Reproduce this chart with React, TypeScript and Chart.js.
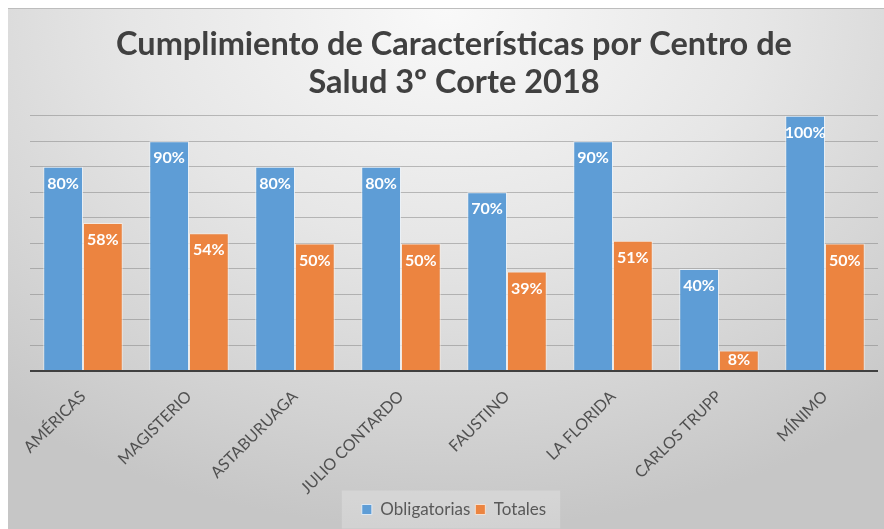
import React, { useEffect, useRef } from "react";
import { Chart, registerables } from "chart.js";

Chart.register(...registerables);

const categories = ["AMÉRICAS", "MAGISTERIO", "ASTABURUAGA", "JULIO CONTARDO", "FAUSTINO", "LA FLORIDA", "CARLOS TRUPP", "MÍNIMO"];
const obligatorias = [80, 90, 80, 80, 70, 90, 40, 100];
const totales = [58, 54, 50, 50, 39, 51, 8, 50];
const titleLines = ["Cumplimiento de Características por Centro de", "Salud 3º Corte 2018"];
const seriesNames = ["Obligatorias", "Totales"];

const FONT = "Lato, 'Open Sans', sans-serif";

const dataLabelPlugin = {
  id: "dataLabels",
  afterDatasetsDraw(chart: any) {
    const ctx = chart.ctx;
    ctx.save();
    ctx.font = `bold 16px ${FONT}`;
    ctx.fillStyle = "#ffffff";
    ctx.textAlign = "center";
    ctx.textBaseline = "middle";
    chart.data.datasets.forEach((ds: any, di: number) => {
      const meta = chart.getDatasetMeta(di);
      meta.data.forEach((bar: any, i: number) => {
        const v = ds.data[i];
        const h = bar.base - bar.y;
        const off = Math.min(17, h / 2);
        ctx.fillText(v + "%", bar.x, bar.y + off);
      });
    });
    ctx.restore();
  },
};

const legendBgPlugin = {
  id: "legendBg",
  beforeDraw(chart: any) {
    const lg = chart.legend;
    if (!lg || !lg.legendHitBoxes || !lg.legendHitBoxes.length) return;
    const boxes = lg.legendHitBoxes;
    const x0 = boxes[0].left - 20;
    const x1 = boxes[boxes.length - 1].left + boxes[boxes.length - 1].width + 14;
    const cy = boxes[0].top + boxes[0].height / 2;
    const y0 = cy - 19;
    const y1 = cy + 19;
    const ctx = chart.ctx;
    ctx.save();
    ctx.fillStyle = "rgba(255,255,255,0.22)";
    ctx.fillRect(x0, y0, x1 - x0, y1 - y0);
    ctx.restore();
  },
};

export default function App() {
  const ref = useRef<HTMLCanvasElement>(null);
  useEffect(() => {
    if (!ref.current) return;
    const chart = new Chart(ref.current, {
      type: "bar",
      data: {
        labels: categories,
        datasets: [
          {
            label: seriesNames[0],
            data: obligatorias,
            backgroundColor: "#5e9dd6",
            borderColor: "rgba(235,242,250,0.8)",
            borderWidth: 1,
            categoryPercentage: 0.75,
            barPercentage: 1,
          },
          {
            label: seriesNames[1],
            data: totales,
            backgroundColor: "#ec8440",
            borderColor: "rgba(250,236,225,0.8)",
            borderWidth: 1,
            categoryPercentage: 0.75,
            barPercentage: 1,
          },
        ],
      },
      options: {
        animation: false,
        responsive: true,
        maintainAspectRatio: false,
        layout: { padding: { left: 22, right: 6, top: 0, bottom: 1 } },
        plugins: {
          title: {
            display: true,
            text: titleLines,
            color: "#404040",
            font: { family: FONT, size: 32.5, weight: "bold", lineHeight: 1.15 },
            padding: { top: 17, bottom: 15 },
          },
          legend: {
            position: "bottom",
            labels: {
              color: "#595959",
              font: { family: FONT, size: 17 },
              boxWidth: 10,
              boxHeight: 10,
              padding: 5,
            },
          },
          tooltip: { enabled: false },
        },
        scales: {
          x: {
            grid: { display: false },
            border: { display: false },
            ticks: {
              color: "#505050",
              font: { family: FONT, size: 16 },
              minRotation: 45,
              maxRotation: 45,
              padding: 8,
            },
            afterFit: (s: any) => {
              s.height = 125;
            },
          },
          y: {
            min: 0,
            max: 100,
            ticks: { display: false, stepSize: 10 },
            border: { display: false },
            grid: {
              color: (c: any) => (c.tick && c.tick.value === 0 ? "#404040" : "rgba(120,120,120,0.45)"),
              lineWidth: (c: any) => (c.tick && c.tick.value === 0 ? 2 : 1),
              drawTicks: false,
            },
            afterFit: (s: any) => {
              s.width = 0;
            },
          },
        },
      },
      plugins: [legendBgPlugin, dataLabelPlugin],
    });
    return () => chart.destroy();
  }, []);

  return (
    <div
      style={{
        position: "fixed",
        left: 8,
        top: 8,
        width: 876,
        height: 521,
        boxSizing: "border-box",
        borderTop: "1px solid #bdbdbd",
        background:
          "radial-gradient(ellipse 80% 100% at 50% 0%, #f9f9f9 0%, #e6e6e6 45%, #d2d2d2 80%, #c6c6c6 100%)",
      }}
    >
      <canvas ref={ref} />
    </div>
  );
}
